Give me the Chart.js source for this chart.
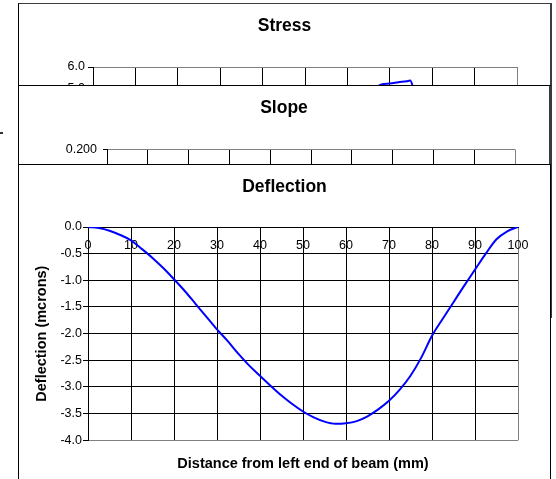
<!DOCTYPE html>
<html>
<head>
<meta charset="utf-8">
<script src="https://cdn.jsdelivr.net/npm/chart.js@4/dist/chart.umd.min.js"></script>
<style>
  html, body { margin: 0; padding: 0; background: #fff; overflow: hidden; width: 556px; height: 479px; }
  .panel { position: absolute; background: #fff; overflow: hidden; }
  #stressPanel { left: 18px; top: 3px; width: 531px; height: 300px; border-left: 1px solid #000; border-top: 1px solid #3c3c3c; border-right: 2px solid #3c3c3c; z-index: 1; }
  #slopePanel { left: 18px; top: 85px; width: 530px; height: 232px; border-left: 1px solid #000; border-top: 1px solid #000; border-right: 3px solid #3a3a3a; z-index: 2; }
  #deflPanel { left: 18px; top: 164px; width: 531px; height: 320px; border-left: 1px solid #000; border-top: 1px solid #000; border-right: 1px solid #000; z-index: 3; }
  #marker { position: absolute; left: 0; top: 132px; width: 3px; height: 2px; background: #333; }
  canvas { position: absolute; left: 0; top: 0; }
</style>
</head>
<body>
<div id="marker"></div>
<div class="panel" id="stressPanel"><canvas id="stressChart" width="531" height="300"></canvas></div>
<div class="panel" id="slopePanel"><canvas id="slopeChart" width="530" height="232"></canvas></div>
<div class="panel" id="deflPanel"><canvas id="deflChart" width="531" height="315"></canvas></div>
<script>
// Beam position along the span (mm) and measured deflection (microns)
const positions = [0, 2.5, 5, 7.5, 10, 12.5, 15, 17.5, 20, 22.5, 25, 27.5, 30, 32.5, 35, 37.5, 40,
  42.5, 45, 47.5, 50, 52.5, 55, 57.5, 60, 62.5, 65, 67.5, 70, 72.5, 75, 77.5, 80, 82.5, 85,
  87.5, 90, 92.5, 95, 97.5, 100];
const deflection = [0, -0.02, -0.07, -0.15, -0.25, -0.41, -0.58, -0.77, -0.98, -1.20, -1.44, -1.68,
  -1.92, -2.14, -2.38, -2.60, -2.79, -2.98, -3.16, -3.32, -3.46, -3.57, -3.65, -3.69, -3.68,
  -3.64, -3.55, -3.42, -3.26, -3.05, -2.79, -2.45, -2.04, -1.72, -1.41, -1.10, -0.80, -0.50,
  -0.23, -0.08, 0];

// Stress near the load point
const stressPositions = [66, 68, 70, 72, 74, 74.8, 75.4, 76, 78];
const stressValues = [4.9, 5.18, 5.22, 5.28, 5.33, 5.36, 5.1, 4.6, 3.0];

// Slope of the deflected beam
const slopePositions = [0, 10, 20, 30, 40, 50, 60, 70, 80, 90, 100];
const slopeValues = [0, -0.05, -0.09, -0.09, -0.08, -0.06, 0.0, 0.08, 0.15, 0.12, 0];

// Axis ranges and tick steps
const distanceRange = [0, 100, 10];
const deflectionRange = [-4, 0, 0.5];
const stressRange = [-4, 6, 1];
const slopeRange = [-0.2, 0.2, 0.05];

const FONT = '"Liberation Sans", Arial, sans-serif';
const BLUE = '#0000ff';
const GRAY = '#808080';
const TICK_SIZE = 12.5;

function series(xs, ys) {
  return xs.map((x, i) => ({ x: x, y: ys[i] }));
}

function makeChart(id, cfg) {
  const [ymin, ymax, ystep] = cfg.yRange;
  const [xmin, xmax, xstep] = distanceRange;
  const grayY = cfg.grayEdge === 'bottom' ? ymin : ymax;
  return new Chart(document.getElementById(id), {
    type: 'line',
    data: {
      datasets: [{
        data: series(cfg.xs, cfg.ys),
        borderColor: BLUE,
        borderWidth: 2,
        pointRadius: 0,
        cubicInterpolationMode: 'monotone',
        fill: false
      }]
    },
    options: {
      responsive: false,
      animation: false,
      events: [],
      layout: { padding: { left: 0, right: 0, top: 0, bottom: cfg.padBottom } },
      plugins: {
        legend: { display: false },
        tooltip: { enabled: false },
        title: {
          display: true,
          text: cfg.title,
          color: '#000',
          font: { family: FONT, size: 17.5, weight: 'bold', lineHeight: 1.2 },
          padding: { top: 11.5, bottom: cfg.titleGap }
        },
        subtitle: {
          display: !!cfg.xTitle,
          text: cfg.xTitle || '',
          position: 'bottom',
          fullSize: false,
          color: '#000',
          font: { family: FONT, size: 14.5, weight: 'bold', lineHeight: 1.2 },
          padding: { top: 15.3, bottom: 7 }
        }
      },
      scales: {
        x: {
          type: 'linear',
          position: { y: 0 },
          min: xmin, max: xmax,
          border: { display: true, color: '#000', width: 1 },
          grid: {
            color: c => (c.tick && c.tick.value === xmax) ? GRAY : '#000',
            lineWidth: 1,
            drawTicks: false
          },
          ticks: {
            stepSize: xstep,
            autoSkip: false,
            maxRotation: 0,
            padding: 11,
            color: '#000',
            font: { family: FONT, size: TICK_SIZE },
            callback: v => String(v)
          },
          afterFit: s => { s.paddingLeft = 0; s.paddingRight = cfg.rightGap; s.paddingTop = 0; s.paddingBottom = 0; }
        },
        y: {
          type: 'linear',
          position: 'left',
          min: ymin, max: ymax,
          border: { display: true, color: '#000', width: 1 },
          grid: {
            color: c => (c.tick && Math.abs(c.tick.value - grayY) < 1e-9) ? GRAY : '#000',
            tickColor: '#000',
            lineWidth: 1,
            drawTicks: true,
            tickLength: cfg.tickLen
          },
          ticks: {
            stepSize: ystep,
            padding: cfg.tickPad,
            color: '#000',
            font: { family: FONT, size: TICK_SIZE },
            callback: v => v.toFixed(cfg.decimals)
          },
          title: {
            display: !!cfg.yTitle,
            text: cfg.yTitle || '',
            color: '#000',
            font: { family: FONT, size: 14.5, weight: 'bold', lineHeight: 1.2 },
            padding: { top: 14.3, bottom: 0 }
          },
          afterFit: s => { s.width = cfg.axisWidth; s.paddingTop = 0; s.paddingBottom = 0; }
        }
      }
    }
  });
}

// Stress panel (mostly covered by the panels stacked in front of it)
makeChart('stressChart', {
  title: 'Stress', xs: stressPositions, ys: stressValues, yRange: stressRange,
  decimals: 1, grayEdge: 'top', axisWidth: 74, rightGap: 33, titleGap: 30.5,
  padBottom: 25, tickLen: 5, tickPad: 3
});

// Slope panel
makeChart('slopeChart', {
  title: 'Slope', xs: slopePositions, ys: slopeValues, yRange: slopeRange,
  decimals: 3, grayEdge: 'top', axisWidth: 88, rightGap: 34, titleGap: 31,
  padBottom: 12, tickLen: 4, tickPad: 6
});

// Deflection panel
makeChart('deflChart', {
  title: 'Deflection', xs: positions, ys: deflection, yRange: deflectionRange,
  decimals: 1, grayEdge: 'bottom', axisWidth: 69, rightGap: 32, titleGap: 29.5,
  padBottom: 0, tickLen: 5, tickPad: 1,
  xTitle: 'Distance from left end of beam (mm)', yTitle: 'Deflection (mcrons)'
});
</script>
</body>
</html>
